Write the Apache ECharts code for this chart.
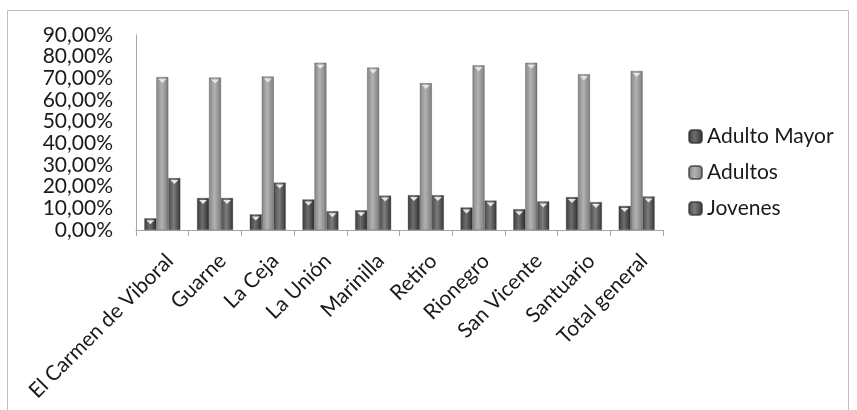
<!DOCTYPE html>
<html>
<head>
<meta charset="utf-8">
<script src="https://cdn.jsdelivr.net/npm/echarts@6/dist/echarts.min.js"></script>
<style>
html,body{margin:0;padding:0;background:#fff;}
#chart{width:857px;height:410px;}
</style>
</head>
<body>
<div id="chart"></div>
<script>
var categories = ['El Carmen de Viboral','Guarne','La Ceja','La Unión','Marinilla','Retiro','Rionegro','San Vicente','Santuario','Total general'];
var adultoMayor = [5.4, 14.8, 7.2, 14.1, 9.1, 16.1, 10.4, 9.6, 15.2, 11.1];
var adultos = [70.6, 70.4, 70.9, 77.2, 75.0, 67.8, 76.0, 77.2, 71.9, 73.4];
var jovenes = [24.0, 14.8, 21.9, 8.7, 15.9, 16.1, 13.6, 13.2, 12.9, 15.5];
var seriesNames = ['Adulto Mayor', 'Adultos', 'Jovenes'];
var yTicks = {min: 0, max: 90, interval: 10};

var FONT = 'Lato';
function grad(c0, c1, c2) {
  return new echarts.graphic.LinearGradient(0, 0, 1, 0, [
    {offset: 0, color: c0}, {offset: 0.45, color: c1}, {offset: 1, color: c2}
  ]);
}
var fills = [
  grad('#3a3a3a', '#6e6e6e', '#2c2c2c'),
  grad('#858585', '#b2b2b2', '#7c7c7c'),
  grad('#4a4a4a', '#7c7c7c', '#353535')
];
var datas = [adultoMayor, adultos, jovenes];
var series = [];
for (var i = 0; i < 3; i++) {
  series.push({
    name: seriesNames[i], type: 'bar', data: datas[i],
    barWidth: 12, barGap: '0%',
    itemStyle: {color: fills[i], borderColor: 'rgba(40,40,40,0.6)', borderWidth: 0.5},
    emphasis: {disabled: true}
  });
}
for (var j = 0; j < 3; j++) {
  series.push({
    name: 'cap' + j, type: 'pictorialBar', data: datas[j],
    barWidth: 12, barGap: '0%',
    symbol: 'path://M0,0 L10,0 L5,5 Z', symbolSize: [8, 4],
    symbolPosition: 'end', symbolOffset: [0, 2],
    itemStyle: {color: '#e6e6e6'}, z: 5, silent: true
  });
}

var chart = echarts.init(document.getElementById('chart'), null, {renderer: 'canvas'});
chart.setOption({
  animation: false,
  backgroundColor: '#fff',
  graphic: [{
    type: 'rect', shape: {x: 7.5, y: 10.5, width: 841, height: 420},
    style: {fill: 'none', stroke: '#bfbfbf', lineWidth: 1}, silent: true
  }],
  grid: {left: 136, right: 194, top: 35, bottom: 180},
  legend: {
    data: seriesNames, orient: 'vertical', left: 683, top: 121,
    itemWidth: 13, itemHeight: 13, itemGap: 15,
    textStyle: {fontFamily: FONT, fontSize: 21, color: '#1a1a1a'}
  },
  xAxis: {
    type: 'category', data: categories,
    axisLine: {lineStyle: {color: '#a6a6a6'}},
    axisTick: {show: true, length: 6, lineStyle: {color: '#a6a6a6'}},
    axisLabel: {rotate: 45, interval: 0, margin: 20, verticalAlign: 'top', fontFamily: FONT, fontSize: 21, color: '#1a1a1a'}
  },
  yAxis: {
    type: 'value', min: yTicks.min, max: yTicks.max, interval: yTicks.interval,
    splitLine: {show: false},
    axisLine: {show: true, lineStyle: {color: '#a6a6a6'}},
    axisTick: {show: false},
    axisLabel: {
      margin: 23, fontFamily: FONT, fontSize: 21, color: '#1a1a1a',
      formatter: function (v) { return v.toFixed(2).replace('.', ',') + '%'; }
    }
  },
  series: series
});
</script>
</body>
</html>
